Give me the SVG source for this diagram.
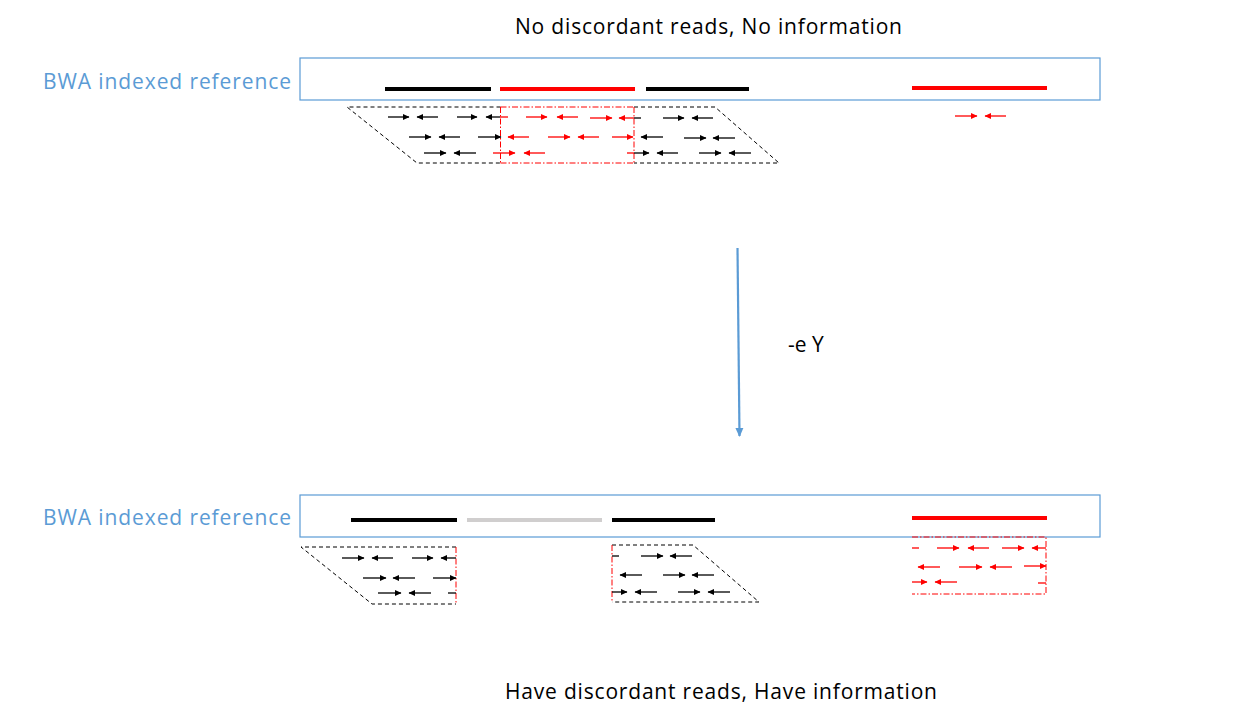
<svg xmlns="http://www.w3.org/2000/svg" width="1235" height="709" viewBox="0 0 1235 709">
<style>
text{font-family:"Open Sans","Noto Sans","Liberation Sans",sans-serif;}
.t{font-size:21px;fill:#000;}
.lbl{font-size:21px;fill:#5B9BD5;}
.box{fill:none;stroke:#5B9BD5;stroke-width:1.2;}
.seg{stroke-width:4;}
.k{stroke:#000;}
.r{stroke:#FF0000;}
.g{stroke:#D0CECE;}
.ab{stroke:#000;stroke-width:1.3;fill:none;marker-end:url(#hk);}
.ar{stroke:#FF0000;stroke-width:1.3;fill:none;marker-end:url(#hr);}
.sk{stroke:#000;stroke-width:1.3;}
.sr{stroke:#FF0000;stroke-width:1.3;}
.dash{stroke:#000;stroke-width:1;stroke-dasharray:4 3;fill:none;}
.dd{stroke:#FF0000;stroke-width:1;stroke-dasharray:6 2 1.5 2;fill:none;}
</style>
<defs>
<marker id="hk" markerUnits="userSpaceOnUse" markerWidth="7" markerHeight="6" refX="6" refY="3" orient="auto"><path d="M0,0 L6.5,3 L0,6 Z" fill="#000"/></marker>
<marker id="hr" markerUnits="userSpaceOnUse" markerWidth="7" markerHeight="6" refX="6" refY="3" orient="auto"><path d="M0,0 L6.5,3 L0,6 Z" fill="#FF0000"/></marker>
<marker id="hb" markerUnits="userSpaceOnUse" markerWidth="10" markerHeight="10" refX="8" refY="5" orient="auto"><path d="M0,1 L9,5 L0,9 Z" fill="#5B9BD5"/></marker>
</defs>

<g id="title-top"><text class="t" x="515" y="34" textLength="387">No discordant reads, No information</text></g>
<g id="title-bottom"><text class="t" x="505" y="699" textLength="432">Have discordant reads, Have information</text></g>

<g id="ref-top">
<text class="lbl" x="43" y="89" textLength="248">BWA indexed reference</text>
<rect class="box" x="300" y="58" width="800" height="42"/>
<line class="seg k" x1="385" y1="89" x2="491" y2="89"/>
<line class="seg r" x1="500" y1="89" x2="635" y2="89"/>
<line class="seg k" x1="646" y1="89" x2="749" y2="89"/>
<line class="seg r" x1="912" y1="88" x2="1047" y2="88"/>
</g>

<g id="reads-top">
<path class="dash" d="M500.5,107 L347,107 L417,163 L500.5,163 M634,107 L715,107 L779,163 L634,163"/>
<path class="dd" d="M500.5,107 L634,107 M500.5,163 L634,163 M500.5,107 L500.5,163 M634,107 L634,163"/>
<line class="ab" x1="388" y1="117" x2="409" y2="117"/>
<line class="ab" x1="438" y1="117" x2="417" y2="117"/>
<line class="ab" x1="457" y1="117" x2="477" y2="117"/>
<line class="sr" x1="500" y1="117" x2="508" y2="117"/>
<line class="ab" x1="500" y1="117" x2="486" y2="117"/>
<line class="ar" x1="526" y1="117" x2="547" y2="117"/>
<line class="ar" x1="578" y1="117" x2="557" y2="117"/>
<line class="ar" x1="590" y1="118" x2="612" y2="118"/>
<line class="sk" x1="634" y1="118" x2="641" y2="118"/>
<line class="ar" x1="634" y1="118" x2="619" y2="118"/>
<line class="ab" x1="663" y1="118" x2="684" y2="118"/>
<line class="ab" x1="713" y1="118" x2="692" y2="118"/>
<line class="ab" x1="409" y1="137" x2="431" y2="137"/>
<line class="ab" x1="460" y1="137" x2="439" y2="137"/>
<line class="ab" x1="478" y1="137" x2="501" y2="137"/>
<line class="ar" x1="529" y1="137" x2="508" y2="137"/>
<line class="ar" x1="548" y1="137" x2="570" y2="137"/>
<line class="ar" x1="599" y1="137" x2="578" y2="137"/>
<line class="ar" x1="612" y1="137" x2="633" y2="137"/>
<line class="ab" x1="663" y1="137" x2="641" y2="137"/>
<line class="ab" x1="684" y1="138" x2="706" y2="138"/>
<line class="ab" x1="735" y1="138" x2="713" y2="138"/>
<line class="ab" x1="424" y1="153" x2="446" y2="153"/>
<line class="ab" x1="476" y1="153" x2="454" y2="153"/>
<line class="ar" x1="493" y1="153" x2="515" y2="153"/>
<line class="ar" x1="545" y1="153" x2="524" y2="153"/>
<line class="sr" x1="627" y1="153" x2="634" y2="153"/>
<line class="ab" x1="634" y1="153" x2="649" y2="153"/>
<line class="ab" x1="678" y1="153" x2="657" y2="153"/>
<line class="ab" x1="699" y1="153" x2="721" y2="153"/>
<line class="ab" x1="751" y1="153" x2="729" y2="153"/>
<line class="ar" x1="955" y1="116" x2="977" y2="116"/>
<line class="ar" x1="1006" y1="116" x2="985" y2="116"/>
</g>

<g id="connectors">
<line x1="737.5" y1="248" x2="739.5" y2="436" stroke="#5B9BD5" stroke-width="2.2" marker-end="url(#hb)"/>
<text x="788" y="352" font-size="21" fill="#000">-e Y</text>
</g>

<g id="ref-bottom">
<text class="lbl" x="43" y="525" textLength="248">BWA indexed reference</text>
<rect class="box" x="300" y="495" width="800" height="42"/>
<line class="seg k" x1="351" y1="520" x2="457" y2="520"/>
<line class="seg g" x1="467" y1="520" x2="602" y2="520"/>
<line class="seg k" x1="612" y1="520" x2="715" y2="520"/>
<line class="seg r" x1="912" y1="518" x2="1047" y2="518"/>
</g>

<g id="reads-left">
<path class="dash" d="M456,547 L301,547 L372,604 L456,604"/>
<path class="dd" d="M456,547 L456,604"/>
<line class="ab" x1="342" y1="558" x2="364" y2="558"/>
<line class="ab" x1="393" y1="558" x2="372" y2="558"/>
<line class="ab" x1="412" y1="558" x2="433" y2="558"/>
<line class="ab" x1="456" y1="558" x2="441" y2="558"/>
<line class="ab" x1="363" y1="578" x2="386" y2="578"/>
<line class="ab" x1="415" y1="578" x2="393" y2="578"/>
<line class="ab" x1="433" y1="578" x2="456" y2="578"/>
<line class="ab" x1="378" y1="593" x2="401" y2="593"/>
<line class="ab" x1="431" y1="593" x2="409" y2="593"/>
<line class="sk" x1="448" y1="593" x2="456" y2="593" stroke="#555"/>
</g>

<g id="reads-middle">
<path class="dash" d="M612,545 L693,545 L759,602 L612,602"/>
<path class="dd" d="M612,545 L612,602"/>
<line class="sk" x1="612" y1="556" x2="619" y2="556"/>
<line class="ab" x1="641" y1="556" x2="663" y2="556"/>
<line class="ab" x1="692" y1="556" x2="670" y2="556"/>
<line class="ab" x1="642" y1="575" x2="620" y2="575"/>
<line class="ab" x1="663" y1="575" x2="685" y2="575"/>
<line class="ab" x1="714" y1="575" x2="692" y2="575"/>
<line class="ab" x1="612" y1="592" x2="627" y2="592"/>
<line class="ab" x1="657" y1="592" x2="635" y2="592"/>
<line class="ab" x1="678" y1="592" x2="700" y2="592"/>
<line class="ab" x1="730" y1="592" x2="708" y2="592"/>
</g>

<g id="reads-right">
<path class="dd" d="M912,537 L1046,537 L1046,594 L912,594"/>
<line class="sr" x1="912" y1="548" x2="919" y2="548"/>
<line class="ar" x1="937" y1="548" x2="959" y2="548"/>
<line class="ar" x1="989" y1="548" x2="968" y2="548"/>
<line class="ar" x1="1002" y1="548" x2="1024" y2="548"/>
<line class="ar" x1="1046" y1="548" x2="1032" y2="548"/>
<line class="ar" x1="940" y1="567" x2="918" y2="567"/>
<line class="ar" x1="959" y1="567" x2="982" y2="567"/>
<line class="ar" x1="1012" y1="567" x2="990" y2="567"/>
<line class="ar" x1="1024" y1="566" x2="1046" y2="566"/>
<line class="ar" x1="912" y1="582" x2="927" y2="582"/>
<line class="ar" x1="957" y1="582" x2="935" y2="582"/>
<line class="sr" x1="1038" y1="583" x2="1046" y2="583"/>
</g>
</svg>
